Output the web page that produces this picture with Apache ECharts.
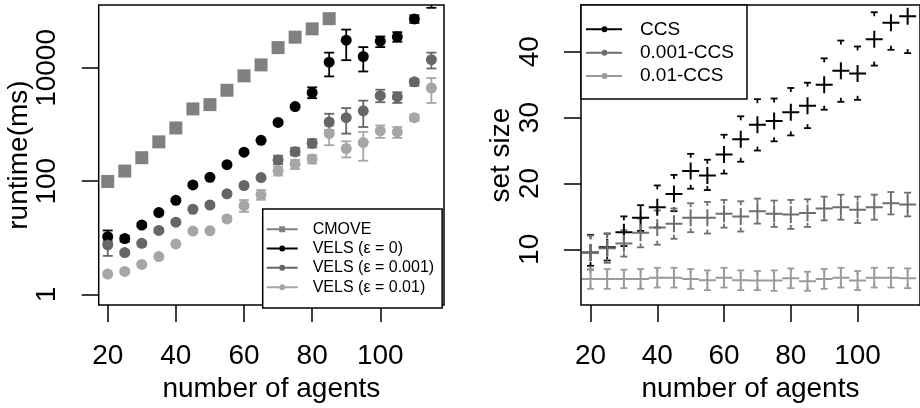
<!DOCTYPE html>
<html>
<head>
<meta charset="utf-8">
<script src="https://cdn.jsdelivr.net/npm/echarts@6/dist/echarts.min.js"></script>
<style>
  html, body { margin: 0; padding: 0; background: #fff; }
  #chart { width: 920px; height: 408px; }
</style>
</head>
<body>
<div id="chart"></div>
<script>
// number of agents (shared by both panels)
const agents = [20, 25, 30, 35, 40, 45, 50, 55, 60, 65, 70, 75, 80, 85, 90, 95, 100, 105, 110, 115];

// left panel: runtime in ms (log scale)
const cmoveMs = [99, 151, 260, 495, 871, 1890, 2250, 4030, 7240, 11300, 22800, 34900, 48900, 74000];
const vels0Ms = [10.5, 9.7, 16.8, 27.9, 45.9, 86, 117, 196, 326, 528, 1090, 2080, 3660, 12600, 30900, 15900, 29700, 35400, 73100, 170000];
const vels0Lo = [8.0, 8.6, 15.5, 26, 43, 81, 110, 185, 310, 500, 1030, 1970, 2920, 7080, 13700, 8650, 23300, 28950, 62300, 115000];
const vels0Hi = [13.5, 10.9, 18.2, 30, 49, 91, 124, 207, 343, 556, 1150, 2190, 4540, 18600, 47500, 23300, 35900, 42700, 84600, 240000];
const vels001Ms = [7.5, 5.5, 8.0, 13.5, 18.9, 32, 38, 60, 84, 116, 236, 331, 468, 1110, 1320, 1750, 3240, 3070, 5690, 14000];
const vels001Lo = [4.8, 5.1, 7.4, 12.6, 17.7, 30, 35.6, 56, 79, 109, 200, 288, 394, 791, 692, 906, 2480, 2410, 4840, 9770];
const vels001Hi = [8.8, 5.9, 8.6, 14.5, 20.2, 34, 40.5, 64, 89, 123, 282, 389, 550, 1550, 1950, 2645, 4120, 3715, 6340, 18600];
const vels01Ms = [2.29, 2.56, 3.39, 4.68, 7.8, 13.2, 13.3, 21.6, 37, 57.6, 151, 201, 246, 692, 378, 481, 771, 741, 1320, 4420];
const vels01Lo = [2.2, 2.45, 3.25, 4.5, 7.5, 12.6, 12.7, 19.5, 28.7, 47.1, 126, 164, 206, 432, 263, 230, 582, 582, 1150, 2410];
const vels01Hi = [2.4, 2.68, 3.55, 4.9, 8.1, 13.8, 13.9, 24, 46.5, 69.6, 181, 236, 288, 966, 507, 741, 966, 906, 1490, 6610];

// right panel: set size
const ccsSize = [9.5, 10.3, 12.6, 14.8, 16.4, 18.4, 21.9, 21.2, 24.4, 26.7, 28.9, 29.5, 30.8, 31.8, 35.0, 37.1, 36.7, 41.9, 44.4, 45.4];
const ccsLo = [7.5, 8.3, 10.5, 12.8, 13.3, 15.8, 19.2, 19.0, 21.5, 23.3, 25.0, 26.4, 27.3, 28.4, 31.2, 32.4, 32.7, 37.9, 40.3, 39.8];
const ccsHi = [12.2, 12.4, 15.0, 16.7, 19.7, 21.3, 24.5, 23.6, 27.4, 30.2, 32.8, 32.9, 34.5, 35.3, 39.0, 41.7, 40.8, 46.0, 48.5, 50.6];
const ccs001Size = [9.5, 10.15, 10.9, 12.5, 13.3, 13.9, 14.8, 14.8, 15.4, 15.0, 15.8, 15.4, 15.3, 15.5, 16.2, 16.4, 16.0, 16.4, 17.0, 16.8];
const ccs001Lo = [6.9, 7.95, 8.9, 10.3, 10.7, 11.6, 12.6, 12.4, 13.3, 12.7, 13.9, 13.4, 13.1, 13.4, 14.4, 14.5, 14.0, 14.5, 15.3, 15.0];
const ccs001Hi = [12.1, 12.35, 12.9, 14.7, 15.9, 16.2, 17.0, 17.2, 17.5, 17.3, 17.7, 17.4, 17.5, 17.6, 18.0, 18.3, 18.0, 18.3, 18.7, 18.6];
const ccs01Size = [5.5, 5.5, 5.5, 5.5, 5.7, 5.7, 5.5, 5.3, 5.7, 5.3, 5.25, 5.25, 5.6, 5.15, 5.5, 5.7, 5.25, 5.7, 5.7, 5.6];
const ccs01Lo = [4.0, 4.0, 4.1, 4.0, 4.2, 4.2, 4.0, 3.8, 4.2, 3.8, 3.8, 3.7, 4.1, 3.7, 4.0, 4.2, 3.8, 4.2, 4.2, 4.1];
const ccs01Hi = [7.0, 7.0, 6.9, 7.0, 7.2, 7.2, 7.0, 6.8, 7.2, 6.8, 6.7, 6.8, 7.1, 6.6, 7.0, 7.2, 6.7, 7.2, 7.2, 7.1];

// tick labels
const xTicks = [20, 40, 60, 80, 100];
const runtimeTicks = [1, 100, 10000];
const sizeTicks = [10, 20, 30, 40];

const FONT = '"Liberation Sans", Arial, Helvetica, sans-serif';

// legend icons: line with marker in the middle (line split so it does not cut a hole)
const ICON_SQ = 'path://M0,2h12.5v2h-12.5z M18.5,2h12.5v2h-12.5z M12.5,0h6v6h-6z';
const ICON_DOT = 'path://M0,2h12.5v2h-12.5z M18.5,2h12.5v2h-12.5z M12.5,3a3,3 0 1,1 6,0a3,3 0 1,1 -6,0z';
const ICON_DOT_R = 'path://M0,2h15.5v2h-15.5z M21.5,2h14.5v2h-14.5z M15.5,3a3,3 0 1,1 6,0a3,3 0 1,1 -6,0z';
const PLUS = 'path://M7.5,0h2v7.5h7.5v2h-7.5v7.5h-2v-7.5h-7.5v-2h7.5z';

function pts(ys) {
    return ys.map(function (y, i) { return [agents[i], y]; });
}
function bars(lo, hi) {
    return lo.map(function (l, i) { return [agents[i], l, hi[i]]; });
}

// error bars; stub = only short pieces next to the caps
function errSeries(name, lo, hi, color, idx, half, stub) {
    return {
        name: name + ' err',
        type: 'custom',
        xAxisIndex: idx,
        yAxisIndex: idx,
        clip: true,
        silent: true,
        itemStyle: { color: color },
        data: bars(lo, hi),
        encode: { x: 0, y: [1, 2] },
        renderItem: function (params, api) {
            const t = api.coord([api.value(0), api.value(2)]);
            const b = api.coord([api.value(0), api.value(1)]);
            const x = t[0];
            function seg(x1, y1, x2, y2) {
                return { type: 'line', shape: { x1: x1, y1: y1, x2: x2, y2: y2 },
                         style: { stroke: color, lineWidth: 1.8 } };
            }
            const kids = [seg(x - half, t[1], x + half, t[1]), seg(x - half, b[1], x + half, b[1])];
            if (stub) {
                kids.push(seg(x, t[1], x, Math.min(t[1] + stub, b[1])));
                kids.push(seg(x, b[1], x, Math.max(b[1] - stub, t[1])));
            } else {
                kids.push(seg(x, t[1], x, b[1]));
            }
            return { type: 'group', children: kids };
        }
    };
}

function pointSeries(name, ys, color, idx, symbol, size) {
    return {
        name: name,
        type: 'scatter',
        xAxisIndex: idx,
        yAxisIndex: idx,
        symbol: symbol,
        symbolSize: size,
        silent: true,
        itemStyle: { color: color, opacity: 1 },
        data: pts(ys)
    };
}

const tickStyle = { length: 17, lineStyle: { color: '#000', width: 1.5 } };
const labelStyle = { color: '#000', fontSize: 28, fontFamily: FONT, margin: 37 };
const nameStyle = { color: '#000', fontSize: 28, fontFamily: FONT };

function xAxisFor(idx, min) {
    return {
        gridIndex: idx, type: 'value', min: min, max: 118.7,
        axisLine: { show: false }, splitLine: { show: false },
        axisTick: Object.assign({ customValues: xTicks }, tickStyle),
        axisLabel: Object.assign({ customValues: xTicks }, labelStyle),
        name: 'number of agents', nameLocation: 'middle', nameGap: 66,
        nameTextStyle: nameStyle
    };
}

const chart = echarts.init(document.getElementById('chart'), null, { renderer: 'canvas' });

chart.setOption({
    animation: false,
    backgroundColor: '#fff',
    grid: [
        { left: 98.7, top: 5, width: 345.3, height: 303, show: true, borderColor: '#000', borderWidth: 1.5, backgroundColor: 'transparent' },
        { left: 581, top: 5, width: 345.3, height: 303, show: true, borderColor: '#000', borderWidth: 1.5, backgroundColor: 'transparent' }
    ],
    xAxis: [xAxisFor(0, 17.35), xAxisFor(1, 17.15)],
    yAxis: [
        {
            gridIndex: 0, type: 'log', logBase: 10, min: 0.65, max: 129000,
            axisLine: { show: false }, splitLine: { show: false }, minorTick: { show: false },
            axisTick: Object.assign({ customValues: runtimeTicks }, tickStyle),
            axisLabel: Object.assign({ customValues: runtimeTicks, rotate: 90,
                formatter: function (v) { return String(Math.round(v)); } }, labelStyle),
            name: 'runtime(ms)', nameLocation: 'middle', nameGap: 63, nameTextStyle: nameStyle
        },
        {
            gridIndex: 1, type: 'value', min: 1.53, max: 47.1,
            axisLine: { show: false }, splitLine: { show: false },
            axisTick: Object.assign({ customValues: sizeTicks }, tickStyle),
            axisLabel: Object.assign({ customValues: sizeTicks, rotate: 90 }, labelStyle),
            name: 'set size', nameLocation: 'middle', nameGap: 63, nameTextStyle: nameStyle
        }
    ],
    legend: [
        {
            left: 262.7, top: 209, orient: 'vertical',
            itemWidth: 31, itemHeight: 6, itemGap: 0,
            padding: [10.6, 8, 11.2, 4],
            borderColor: '#000', borderWidth: 1.5, backgroundColor: '#fff',
            textStyle: { color: '#000', fontSize: 16, lineHeight: 19.3, fontFamily: FONT, padding: [0, 0, 0, 10] },
            selectedMode: false,
            data: [
                { name: 'CMOVE', icon: ICON_SQ },
                { name: 'VELS (ε = 0)', icon: ICON_DOT },
                { name: 'VELS (ε = 0.001)', icon: ICON_DOT },
                { name: 'VELS (ε = 0.01)', icon: ICON_DOT }
            ]
        },
        {
            left: 581, top: 5, orient: 'vertical',
            itemWidth: 36, itemHeight: 6, itemGap: 0,
            padding: [12.6, 13, 11.3, 5],
            borderColor: '#000', borderWidth: 1.5, backgroundColor: '#fff',
            textStyle: { color: '#000', fontSize: 19, lineHeight: 23.35, fontFamily: FONT, padding: [0, 0, 0, 13] },
            selectedMode: false,
            data: [
                { name: 'CCS', icon: ICON_DOT_R },
                { name: '0.001-CCS', icon: ICON_DOT_R },
                { name: '0.01-CCS', icon: ICON_DOT_R }
            ]
        }
    ],
    series: [
        pointSeries('CMOVE', cmoveMs, '#808080', 0, 'rect', 13),
        errSeries('VELS (ε = 0)', vels0Lo, vels0Hi, '#000000', 0, 5, 0),
        pointSeries('VELS (ε = 0)', vels0Ms, '#000000', 0, 'circle', 11),
        errSeries('VELS (ε = 0.001)', vels001Lo, vels001Hi, '#666666', 0, 5, 0),
        pointSeries('VELS (ε = 0.001)', vels001Ms, '#666666', 0, 'circle', 11),
        errSeries('VELS (ε = 0.01)', vels01Lo, vels01Hi, '#a6a6a6', 0, 5, 0),
        pointSeries('VELS (ε = 0.01)', vels01Ms, '#a6a6a6', 0, 'circle', 11),

        errSeries('CCS', ccsLo, ccsHi, '#000000', 1, 3.5, 4),
        pointSeries('CCS', ccsSize, '#000000', 1, PLUS, 17),
        errSeries('0.001-CCS', ccs001Lo, ccs001Hi, '#6e6e6e', 1, 3.5, 4),
        pointSeries('0.001-CCS', ccs001Size, '#6e6e6e', 1, PLUS, 17),
        errSeries('0.01-CCS', ccs01Lo, ccs01Hi, '#9a9a9a', 1, 3.5, 4),
        pointSeries('0.01-CCS', ccs01Size, '#9a9a9a', 1, PLUS, 17)
    ]
});
</script>
</body>
</html>
